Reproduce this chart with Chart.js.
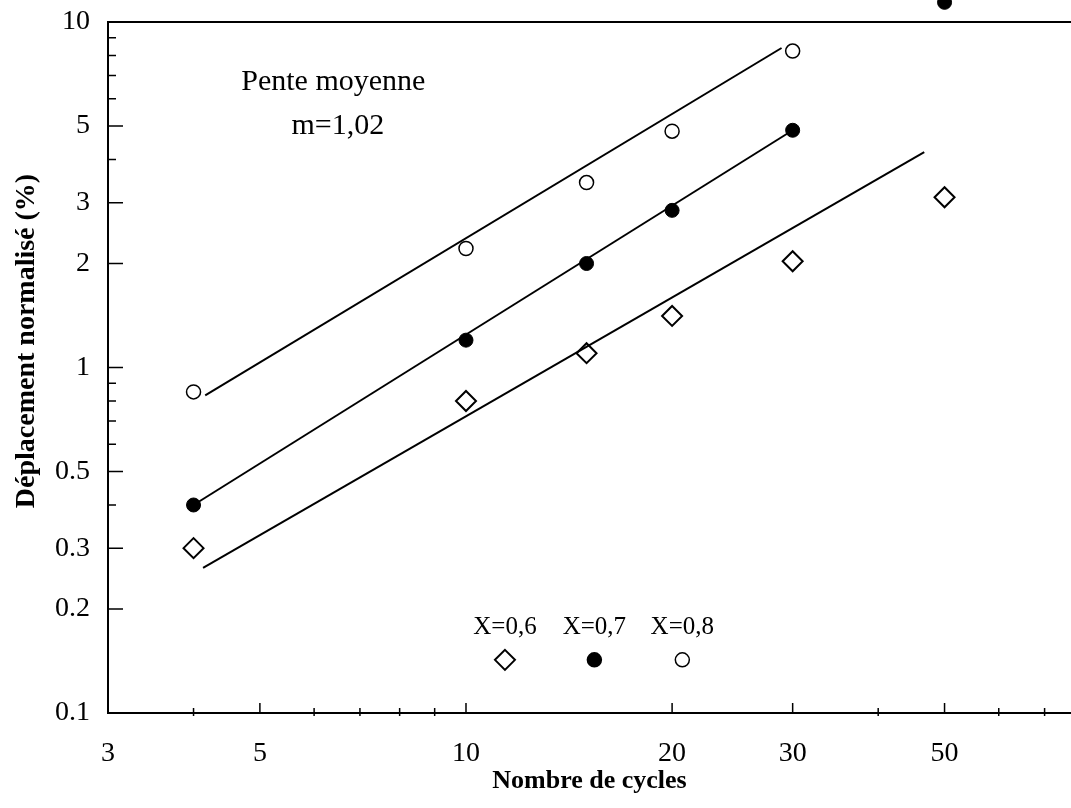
<!DOCTYPE html>
<html>
<head>
<meta charset="utf-8">
<script src="https://cdn.jsdelivr.net/npm/chart.js@4.4.0/dist/chart.umd.min.js"></script>
<style>
  html, body { margin: 0; padding: 0; background: #fff; overflow: hidden; }
  canvas { display: block; }
</style>
</head>
<body>
<canvas id="myChart" width="1071" height="808"></canvas>
<script>
// measured points (Nombre de cycles / Deplacement normalise %)
const cyclesX06 = [4, 10, 15, 20, 30, 50];
const valuesX06 = [0.30, 0.80, 1.10, 1.41, 2.03, 3.11];
const cyclesX07 = [4, 10, 15, 20, 30, 50];
const valuesX07 = [0.40, 1.20, 2.00, 2.85, 4.86, 11.4];
const cyclesX08 = [4, 10, 15, 20, 30];
const valuesX08 = [0.85, 2.21, 3.43, 4.83, 8.24];

// fitted lines, start and end
const fitCyclesX06 = [4.13, 46.7];
const fitValuesX06 = [0.263, 4.2];
const fitCyclesX07 = [4, 30];
const fitValuesX07 = [0.40, 4.86];
const fitCyclesX08 = [4.16, 28.9];
const fitValuesX08 = [0.83, 8.41];

const xTicks = [3, 5, 10, 20, 30, 50];
const xMinor = [4, 6, 7, 8, 9, 40, 60, 70];
const yTicks = [0.1, 0.2, 0.3, 0.5, 1, 2, 3, 5, 10];
const yMinor = [0.4, 0.6, 0.7, 0.8, 0.9, 4, 6, 7, 8, 9];
const yFrameTop = 10; // frame is drawn at 10, the axis runs a bit higher so the 50 cycle point shows

const legendLabels = ["X=0,6", "X=0,7", "X=0,8"];
const legendCycles = [11.4, 15.4, 20.7];

const serif = "'Liberation Serif', 'DejaVu Serif', serif";

function pts(xs, ys) {
  return xs.map((x, i) => ({ x: x, y: ys[i] }));
}

function marker(ctx, style, x, y) {
  ctx.save();
  ctx.strokeStyle = "#000";
  ctx.fillStyle = style == "filled" ? "#000" : "#fff";
  ctx.lineWidth = style == "diamond" ? 2 : 1.5;
  ctx.beginPath();
  if (style == "diamond") {
    ctx.moveTo(x, y - 10);
    ctx.lineTo(x + 10, y);
    ctx.lineTo(x, y + 10);
    ctx.lineTo(x - 10, y);
    ctx.closePath();
  } else {
    ctx.arc(x, y, 7, 0, Math.PI * 2);
  }
  ctx.fill();
  ctx.stroke();
  ctx.restore();
}

function noPad(s) {
  s.paddingTop = 0;
  s.paddingBottom = 0;
  s.paddingLeft = 0;
  s.paddingRight = 0;
}

const extras = {
  id: "extras",
  afterDraw(chart) {
    const ctx = chart.ctx;
    const xs = chart.scales.x;
    const ys = chart.scales.y;
    const a = chart.chartArea;
    const top = ys.getPixelForValue(yFrameTop);
    ctx.save();
    ctx.strokeStyle = "#000";
    // frame: left axis and top line
    ctx.lineWidth = 2;
    ctx.beginPath();
    ctx.moveTo(a.left, a.bottom);
    ctx.lineTo(a.left, top);
    ctx.lineTo(a.right, top);
    ctx.stroke();
    // inward ticks
    ctx.lineWidth = 1.5;
    ctx.beginPath();
    yTicks.forEach(v => { const p = ys.getPixelForValue(v); ctx.moveTo(a.left, p); ctx.lineTo(a.left + 15, p); });
    yMinor.forEach(v => { const p = ys.getPixelForValue(v); ctx.moveTo(a.left, p); ctx.lineTo(a.left + 8, p); });
    xTicks.forEach(v => { const p = xs.getPixelForValue(v); ctx.moveTo(p, a.bottom); ctx.lineTo(p, a.bottom - 10); });
    xMinor.forEach(v => { const p = xs.getPixelForValue(v); ctx.moveTo(p, a.bottom + 3); ctx.lineTo(p, a.bottom - 5); });
    ctx.stroke();

    ctx.fillStyle = "#000";
    ctx.textAlign = "center";
    ctx.textBaseline = "middle";
    // annotation
    ctx.font = "30px " + serif;
    ctx.fillText("Pente moyenne", xs.getPixelForValue(6.4), ys.getPixelForValue(6.7));
    ctx.fillText("m=1,02", xs.getPixelForValue(6.5), ys.getPixelForValue(5.0));
    // legend
    ctx.font = "25px " + serif;
    const styles = ["diamond", "filled", "open"];
    legendLabels.forEach((t, i) => {
      const px = xs.getPixelForValue(legendCycles[i]);
      ctx.fillText(t, px, ys.getPixelForValue(0.177));
      marker(ctx, styles[i], px, ys.getPixelForValue(0.1425));
    });
    // axis titles
    ctx.font = "bold 26px " + serif;
    ctx.fillText("Nombre de cycles", (a.left + a.right) / 2, 781);
    ctx.font = "bold 28px " + serif;
    ctx.translate(27, 341);
    ctx.rotate(-Math.PI / 2);
    ctx.fillText("Déplacement normalisé (%)", 0, 0);
    ctx.restore();
  }
};

const ctx = document.getElementById("myChart");
const myChart = new Chart(ctx, {
  type: "scatter",
  data: {
    datasets: [
      { data: pts(fitCyclesX06, fitValuesX06), showLine: true, pointRadius: 0, borderColor: "#000", borderWidth: 2 },
      { data: pts(fitCyclesX07, fitValuesX07), showLine: true, pointRadius: 0, borderColor: "#000", borderWidth: 2 },
      { data: pts(fitCyclesX08, fitValuesX08), showLine: true, pointRadius: 0, borderColor: "#000", borderWidth: 2 },
      {
        label: "X=0,6", data: pts(cyclesX06, valuesX06), pointStyle: "rectRot", pointRadius: 10,
        pointBackgroundColor: "#fff", pointBorderColor: "#000", pointBorderWidth: 2, clip: false
      },
      {
        label: "X=0,7", data: pts(cyclesX07, valuesX07), pointStyle: "circle", pointRadius: 7,
        pointBackgroundColor: "#000", pointBorderColor: "#000", pointBorderWidth: 1, clip: false
      },
      {
        label: "X=0,8", data: pts(cyclesX08, valuesX08), pointStyle: "circle", pointRadius: 7,
        pointBackgroundColor: "#fff", pointBorderColor: "#000", pointBorderWidth: 1.5, clip: false
      }
    ]
  },
  options: {
    responsive: false,
    animation: false,
    layout: { padding: 0, autoPadding: false },
    plugins: { legend: { display: false }, tooltip: { enabled: false } },
    scales: {
      x: {
        type: "logarithmic",
        min: 3,
        max: 76.5,
        afterBuildTicks: s => { s.ticks = xTicks.map(v => ({ value: v })); },
        afterFit: s => { s.height = 95; noPad(s); },
        ticks: {
          callback: v => String(v),
          color: "#000",
          font: { family: serif, size: 28 },
          padding: 24,
          autoSkip: false,
          maxRotation: 0
        },
        grid: { drawOnChartArea: false, drawTicks: false },
        border: { color: "#000", width: 2 }
      },
      y: {
        type: "logarithmic",
        min: 0.1,
        max: 11.58,
        afterBuildTicks: s => { s.ticks = yTicks.map(v => ({ value: v })); },
        afterFit: s => { s.width = 108; noPad(s); },
        ticks: {
          callback: v => String(v),
          color: "#000",
          font: { family: serif, size: 28 },
          padding: 18,
          autoSkip: false
        },
        grid: { drawOnChartArea: false, drawTicks: false },
        border: { display: false }
      }
    }
  },
  plugins: [extras]
});
</script>
</body>
</html>
